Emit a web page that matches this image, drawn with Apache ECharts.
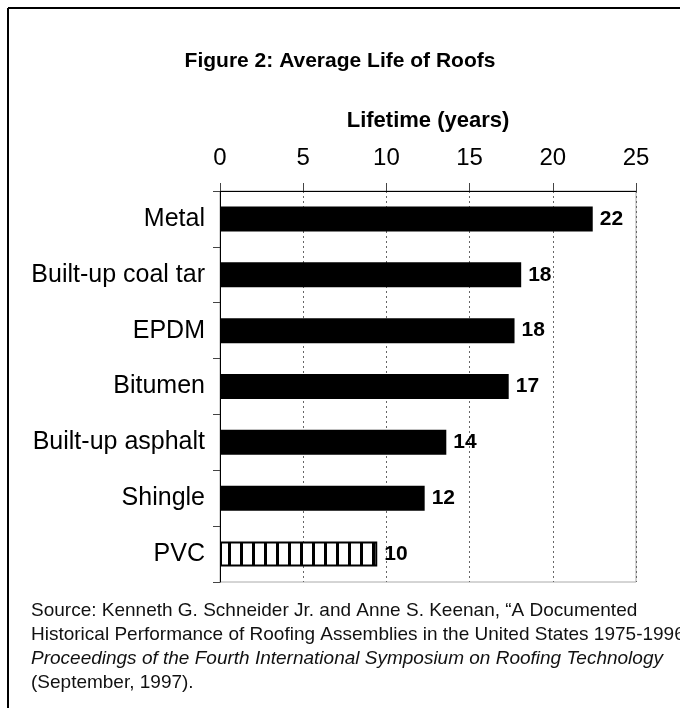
<!DOCTYPE html>
<html>
<head>
<meta charset="utf-8">
<script src="https://cdn.jsdelivr.net/npm/echarts@6/dist/echarts.min.js"></script>
<style>
  html, body { margin: 0; padding: 0; background: #fff; }
  #chart { width: 680px; height: 708px; }
</style>
</head>
<body>
<div id="chart"></div>
<script>
// roof types, top to bottom
var categories = ['Metal', 'Built-up coal tar', 'EPDM', 'Bitumen', 'Built-up asphalt', 'Shingle', 'PVC'];
// bar lengths as drawn (years)
var lifetimes = [22.4, 18.1, 17.7, 17.35, 13.6, 12.3, 9.45];
// printed value labels
var valueLabels = ['22', '18', '18', '17', '14', '12', '10'];
var xTicks = [0, 25, 5];

var sourceLines = [
  'Source: Kenneth G. Schneider Jr. and Anne S. Keenan, \u201cA Documented',
  'Historical Performance of Roofing Assemblies in the United States 1975-1996,\u201d',
  'Proceedings of the Fourth International Symposium on Roofing Technology',
  '(September, 1997).'
];

// vertical stripes for the PVC bar
function stripes() {
  var c = document.createElement('canvas');
  c.width = 12; c.height = 4;
  var g = c.getContext('2d');
  g.fillStyle = '#fff';
  g.fillRect(0, 0, 12, 4);
  g.fillStyle = '#000';
  g.fillRect(0, 0, 3, 4);
  return c;
}

var font = 'Liberation Sans, Arial, sans-serif';
var chart = echarts.init(document.getElementById('chart'));

var barData = lifetimes.map(function (v, i) {
  var item = { value: v };
  if (categories[i] === 'PVC') {
    item.itemStyle = {
      color: { image: stripes(), repeat: 'repeat' },
      borderColor: '#000',
      borderWidth: 2
    };
  }
  return item;
});

var option = {
  backgroundColor: '#fff',
  animation: false,
  textStyle: { fontFamily: font },
  title: {
    text: 'Figure 2: Average Life of Roofs',
    left: 'center',
    top: 46,
    textStyle: { fontFamily: font, fontSize: 21, fontWeight: 'bold', color: '#000' }
  },
  grid: {
    left: 220, top: 191, right: 44, bottom: 126,
    show: true, borderColor: '#aaa', borderWidth: 1
  },
  xAxis: {
    type: 'value',
    position: 'top',
    min: xTicks[0], max: xTicks[1], interval: xTicks[2],
    name: 'Lifetime (years)',
    nameLocation: 'middle',
    nameGap: 59,
    nameTextStyle: { fontFamily: font, fontSize: 22, fontWeight: 'bold', color: '#000' },
    axisLine: { show: true, lineStyle: { color: '#000', width: 1 } },
    axisTick: { show: true, length: 8, lineStyle: { color: '#444' } },
    axisLabel: { margin: 21, fontSize: 24, color: '#000', fontFamily: font },
    splitLine: { show: true, lineStyle: { color: '#666', type: [2, 3], width: 1 } }
  },
  yAxis: {
    type: 'category',
    inverse: true,
    data: categories,
    axisLine: { show: true, lineStyle: { color: '#000', width: 1 } },
    axisTick: { show: true, length: 7, alignWithLabel: false, lineStyle: { color: '#444' } },
    axisLabel: { margin: 15, fontSize: 25, color: '#000', fontFamily: font },
    splitLine: { show: false }
  },
  series: [{
    type: 'bar',
    data: barData,
    barWidth: 25,
    itemStyle: { color: '#000' },
    label: {
      show: true,
      position: 'right',
      distance: 7,
      fontFamily: font,
      fontSize: 21,
      fontWeight: 'bold',
      color: '#000',
      formatter: function (p) { return valueLabels[p.dataIndex]; }
    }
  }],
  graphic: [
    { type: 'line', shape: { x1: 8, y1: 8, x2: 680, y2: 8 }, style: { stroke: '#000', lineWidth: 2 } },
    { type: 'line', shape: { x1: 8, y1: 8, x2: 8, y2: 708 }, style: { stroke: '#000', lineWidth: 2 } }
  ].concat(sourceLines.map(function (t, i) {
    return {
      type: 'text',
      left: 31,
      top: 601 + i * 24,
      style: {
        text: t,
        fontFamily: font,
        fontSize: 19,
        fontStyle: i === 2 ? 'italic' : 'normal',
        fill: '#111'
      }
    };
  }))
};

chart.setOption(option);
</script>
</body>
</html>
